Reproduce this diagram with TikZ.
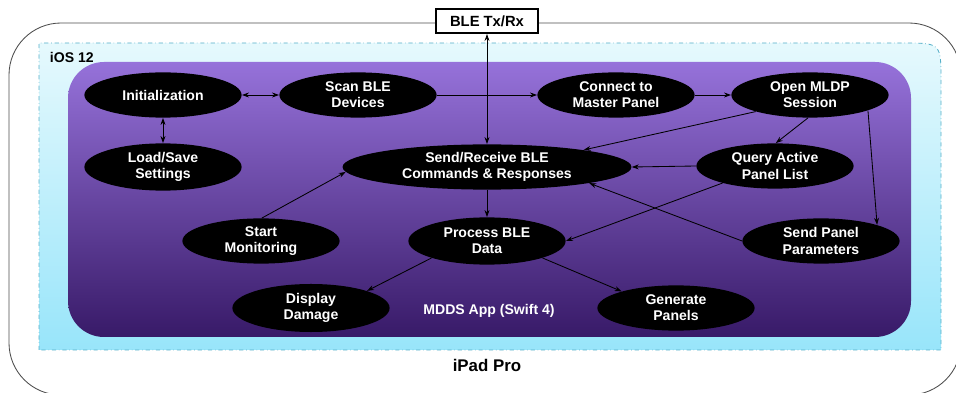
\documentclass[tikz,border=0pt]{standalone}
\usepackage{fontspec}
\setmainfont{Liberation Sans}
\usetikzlibrary{positioning,shapes.geometric,arrows.meta}
\definecolor{appTop}{RGB}{150,114,218}
\definecolor{appBot}{RGB}{56,26,104}
\definecolor{iosTop}{RGB}{230,249,253}
\definecolor{iosBot}{RGB}{152,229,250}
\definecolor{iosLine}{RGB}{85,175,200}

\begin{document}
\begin{tikzpicture}[x=0.025cm,y=-0.025cm,>={Stealth[length=5pt,width=3.5pt]},
    task/.style={ellipse,fill=black,text=white,inner sep=0pt,minimum width=3.93cm,minimum height=1.13cm,
      align=center,font=\bfseries\fontsize{10}{11.5}\selectfont},
    every edge/.style={draw,line width=0.6pt}]
    \useasboundingbox (0,0) rectangle (956,393);
    \clip (0,0) rectangle (956,393);

    % iPad
    \draw[gray!60!black,line width=0.6pt,rounded corners=1.3cm] (9,23) rectangle (961,395);
    % iOS
    \shadedraw[top color=iosTop,bottom color=iosBot,draw=iosLine,dash dot,line width=0.6pt]
      (39,350) -- (39,43) -- (903,43) .. controls (941,43) .. (941,81) -- (941,350) -- cycle;
    % app
    \shade[top color=appTop,bottom color=appBot,rounded corners=0.9cm] (68,62) rectangle (911,337);

    \node[task] (init) at (163,95) {Initialization};
    \node[task] (scan) at (358,95) {Scan BLE\\Devices};
    \node[task] (conn) at (616,95) {Connect to\\Master Panel};
    \node[task] (mldp) at (810,95) {Open MLDP\\Session};
    \node[task,minimum height=1.18cm] (load) at (163,167) {Load/Save\\Settings};
    \node[task,minimum width=7.22cm] (sr) at (487,167) {Send/Receive BLE\\Commands \& Responses};
    \node[task] (query) at (775,166) {Query Active\\Panel List};
    \node[task] (start) at (261,241) {Start\\Monitoring};
    \node[task,minimum height=1.18cm] (proc) at (487,241) {Process BLE\\Data};
    \node[task] (spp) at (821,241) {Send Panel\\Parameters};
    \node[task,minimum height=1.2cm] (disp) at (311,308) {Display\\Damage};
    \node[task] (gen) at (676,308) {Generate\\Panels};

    \node[draw=black,line width=1.4pt,fill=white,minimum width=2.55cm,minimum height=0.6cm,
      font=\bfseries\fontsize{10.5}{12}\selectfont] (ble) at (487,21) {BLE Tx/Rx};
    \node[anchor=west,font=\bfseries] (ios) at (45,57) {iOS 12};
    \node[text=white,font=\bfseries] (app) at (489,311) {MDDS App (Swift 4)};
    \node[font=\bfseries\fontsize{12}{14}\selectfont] (ipad) at (487,365) {iPad Pro};

    \path
      (init.east) edge[<->] (scan.west)
      (init.south) edge[<->] (load.north)
      (scan.east) edge[->] (conn.west)
      (conn.east) edge[->] (mldp.west)
      (ble.south) edge[<->] (sr.north)
      (mldp.197) edge[->] (sr.10)
      (mldp.265) edge[->] (query.88)
      (mldp.-15) edge[->] (spp.16)
      (query.west) edge[->] (sr.east)
      (query.198) edge[->] (proc.east)
      (spp.west) edge[->] (sr.-9)
      (sr.south) edge[->] (proc.north)
      (start.88) edge[->] (sr.182)
      (proc.197) edge[->] (disp.17)
      (proc.-17) edge[->] (gen.163);
\end{tikzpicture}
\end{document}
